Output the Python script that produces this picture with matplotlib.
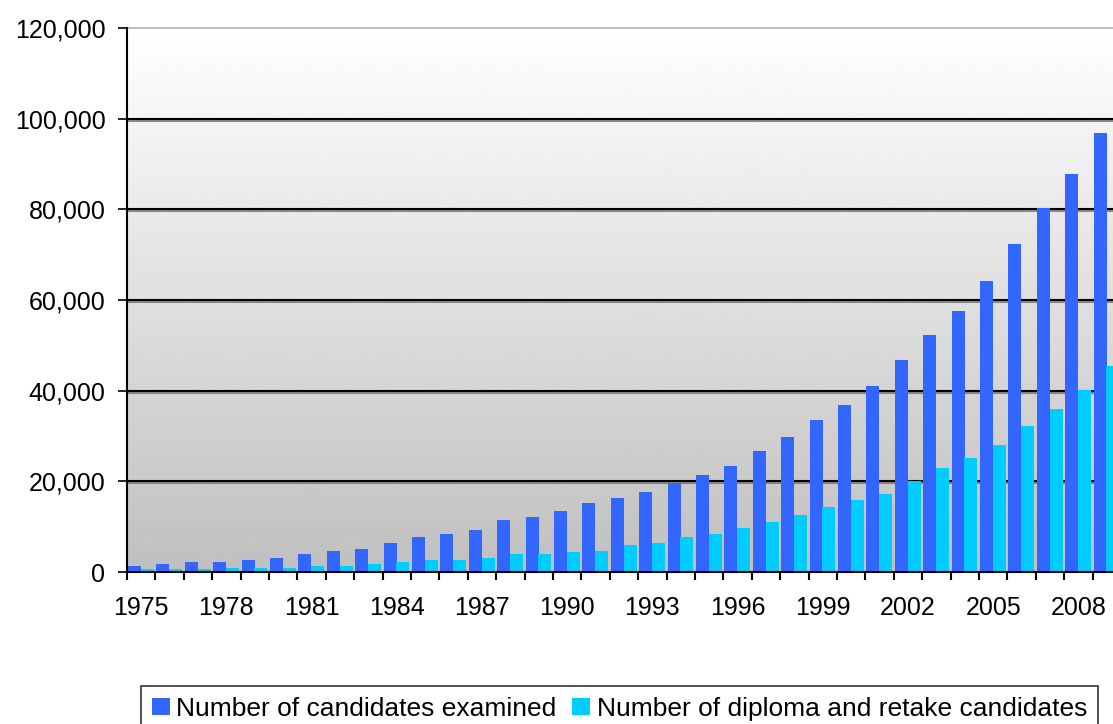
import numpy as np
import matplotlib.pyplot as plt
import matplotlib.patheffects as pe

years = list(range(1975, 2010))
examined = [1300, 1800, 2200, 2200, 2600, 3100, 4000, 4600, 5100, 6400,
            7700, 8400, 9200, 11400, 12100, 13400, 15200, 16300, 17600, 19600,
            21400, 23300, 26600, 29700, 33500, 36800, 41000, 46700, 52200, 57500,
            64100, 72400, 80400, 87900, 96900]
diploma_retake = [700, 700, 700, 900, 900, 900, 1300, 1300, 1800, 2200,
                  2600, 2600, 3100, 4000, 4000, 4400, 4600, 5900, 6400, 7700,
                  8400, 9700, 11000, 12500, 14300, 15900, 17200, 20000, 22900, 25100,
                  28000, 32100, 35900, 40100, 45400]
series_names = ["Number of candidates examined",
                "Number of diploma and retake candidates"]
label_years = years[::3]

plt.rcParams["font.family"] = ["Liberation Sans", "DejaVu Sans"]

fig = plt.figure(figsize=(11.13, 7.24), dpi=100)
ax = fig.add_axes([127 / 1113, 152 / 724, 994 / 1113, 544 / 724])

x = np.arange(len(years))
ax.set_xlim(-0.5, len(years) - 0.5)
ax.set_ylim(0, 120000)

# gradient plot-area background (white at top, grey at bottom)
grad = np.linspace(0.75, 1.0, 256).reshape(-1, 1)
ax.imshow(grad, extent=[0, 1, 0, 1], transform=ax.transAxes, cmap="gray",
          vmin=0, vmax=1, aspect="auto", origin="lower", zorder=0)

shadow = [pe.SimpleLineShadow(offset=(0, -1.5), shadow_color="0.45", alpha=0.8),
          pe.Normal()]
for yv in range(20000, 120000, 20000):
    ax.axhline(yv, color="black", lw=1.5, zorder=1, path_effects=shadow)

w = 0.46
ax.bar(x - 0.235, examined, width=w, color="#3366ff", zorder=2,
       label=series_names[0])
ax.bar(x + 0.215, diploma_retake, width=w, color="#00ccff", zorder=2,
       label=series_names[1])

ax.set_yticks(range(0, 120001, 20000))
ax.set_yticklabels([f"{v:,}" for v in range(0, 120001, 20000)])
ax.set_xticks(np.arange(len(years) + 1) - 0.5)
ax.set_xticklabels([])
ax.set_xticks([years.index(y) for y in label_years], minor=True)
ax.set_xticklabels([str(y) for y in label_years], minor=True)
ax.tick_params(axis="y", direction="out", length=6.5, width=1.2, labelsize=18, pad=9)
ax.tick_params(axis="x", which="major", direction="out", length=6, width=1.5)
ax.tick_params(axis="x", which="minor", length=0, labelsize=18, pad=17)

for side in ["top", "right"]:
    ax.spines[side].set_visible(False)
ax.spines["left"].set_linewidth(1.5)
ax.spines["bottom"].set_linewidth(1.5)
ax.axhline(120000, color="0.75", lw=1.5, zorder=1, clip_on=False)

leg = fig.legend(loc="upper left", bbox_to_anchor=(141 / 1113, 1 - 686 / 724),
                 ncol=2, frameon=True, fancybox=False, edgecolor="black",
                 fontsize=19, handlelength=0.68, handleheight=0.62,
                 handletextpad=0.25, columnspacing=0.6, borderpad=0.4,
                 borderaxespad=0)
leg.get_frame().set_linewidth(1.2)

fig.savefig("out.png", dpi=100)
